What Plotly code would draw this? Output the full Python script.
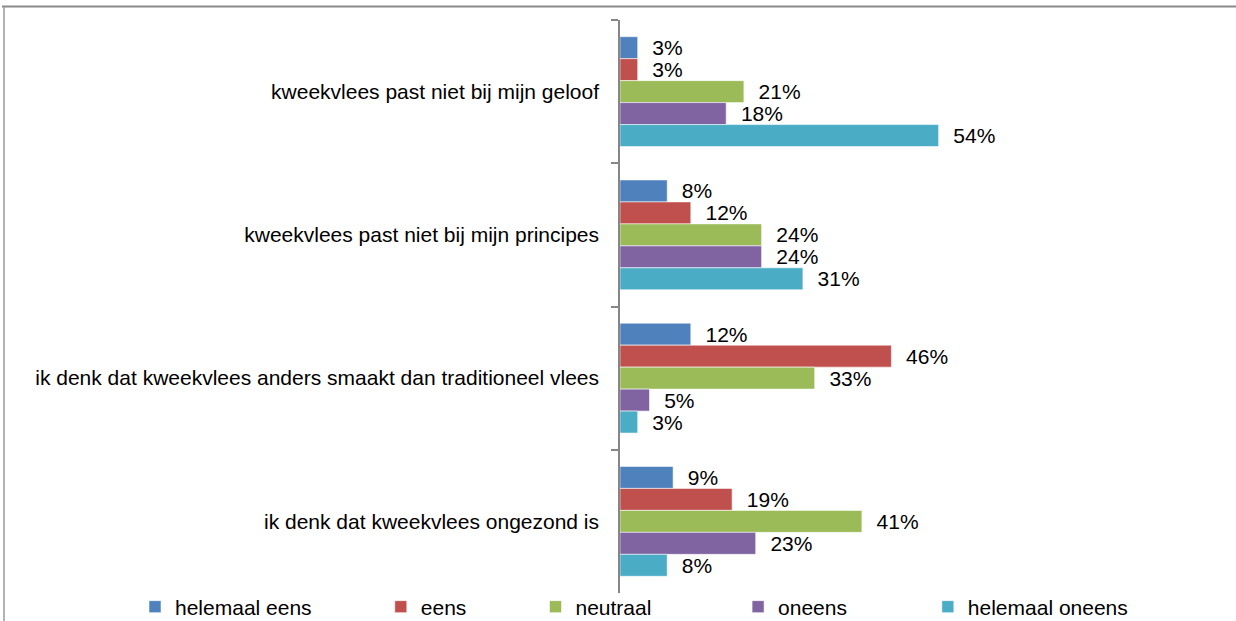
import plotly.graph_objects as go

categories = [
    "kweekvlees past niet bij mijn geloof",
    "kweekvlees past niet bij mijn principes",
    "ik denk dat kweekvlees anders smaakt dan traditioneel vlees",
    "ik denk dat kweekvlees ongezond is",
]
series_names = ["helemaal eens", "eens", "neutraal", "oneens", "helemaal oneens"]
helemaal_eens = [3, 8, 12, 9]
eens = [3, 12, 46, 19]
neutraal = [21, 24, 33, 41]
oneens = [18, 24, 5, 23]
helemaal_oneens = [54, 31, 3, 8]
series_values = [helemaal_eens, eens, neutraal, oneens, helemaal_oneens]
colors = ["#4F81BD", "#C0504D", "#9BBB59", "#8064A2", "#4BACC6"]
legend_pad = [11, 11, 14, 13, 0]  # trailing spacing per legend entry (style)

FONT = "Arial, 'Liberation Sans', sans-serif"
NB = "\u00a0"

fig = go.Figure()
for name, vals, col, pad in zip(series_names, series_values, colors, legend_pad):
    fig.add_trace(go.Bar(
        y=categories,
        x=vals,
        name=name + NB * pad,
        orientation="h",
        marker=dict(color=col, line=dict(color="rgba(255,255,255,0.55)", width=1)),
        text=[f"{NB}{NB}{v}%" for v in vals],
        textposition="outside",
        constraintext="none",
        cliponaxis=False,
        textfont=dict(family=FONT, size=21, color="#000000"),
        hoverinfo="skip",
    ))

PX_PER_PCT = 5.9
L, R, T, B = 620, 1236, 19.5, 593
W, H = R - L, B - T

def px(xp):
    return (xp - L) / W

def py(yp):
    return (B - yp) / H

shapes = [
    dict(type="line", xref="paper", yref="paper", x0=px(2), x1=px(1236), y0=py(6), y1=py(6),
         line=dict(color="#8a8a8a", width=2)),
    dict(type="line", xref="paper", yref="paper", x0=px(4), x1=px(4), y0=py(6), y1=py(621),
         line=dict(color="#9a9a9a", width=1.5)),
]

fig.update_layout(
    width=1236, height=621,
    margin=dict(l=L, r=1236 - R, t=T, b=621 - B, pad=0, autoexpand=False),
    paper_bgcolor="white", plot_bgcolor="white",
    barmode="group", bargap=0.233, bargroupgap=0,
    font=dict(family=FONT, size=21, color="#000000"),
    showlegend=True,
    legend=dict(orientation="h", x=px(135), xanchor="left", y=py(607), yanchor="middle",
                font=dict(family=FONT, size=21, color="#000000"),
                itemwidth=30, traceorder="normal", bgcolor="rgba(0,0,0,0)"),
    xaxis=dict(range=[0, W / PX_PER_PCT], showticklabels=False, showgrid=False, zeroline=False,
               showline=False, ticks="", automargin=False),
    yaxis=dict(autorange="reversed", showline=True, linecolor="#868686", linewidth=1.5,
               ticks="outside", ticklen=7, tickcolor="#868686", tickwidth=1.5,
               tickson="boundaries", showgrid=False, zeroline=False, automargin=False,
               ticklabelstandoff=15,
               tickfont=dict(family=FONT, size=21, color="#000000")),
    shapes=shapes,
)

fig.write_html("out.html",
               config={"displayModeBar": False},
               post_script="document.body.style.margin='0';document.body.style.overflow='hidden';")
